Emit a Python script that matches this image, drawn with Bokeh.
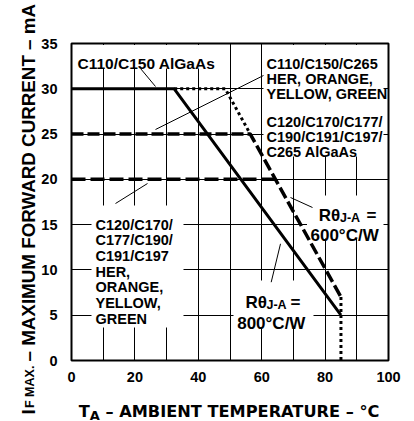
import math
from bokeh.plotting import figure
from bokeh.models import ColumnDataSource, Label, BoxAnnotation, Range1d
from bokeh.embed import file_html
from bokeh.resources import INLINE
from bokeh.core.properties import value

# ---------------- data ----------------
x_ticks = [0, 20, 40, 60, 80, 100]
y_ticks = [0, 5, 10, 15, 20, 25, 30, 35]
x_grid = [10, 20, 30, 40, 50, 60, 70, 80, 90]
y_grid = [5, 10, 15, 20, 25, 30]

# C110/C150 AlGaAs, 30 mA, R = 800 C/W (solid)
algaas30_t = [0, 32.4, 85]
algaas30_i = [30, 30, 5]
# C110/C150/C265 HER/ORANGE/YELLOW/GREEN, 30 mA, R = 600 C/W (dotted)
her30_t = [32.4, 48.5, 56.4]
her30_i = [30, 30, 25]
# C120/.../C265 AlGaAs, 25 mA (dashed)
algaas25_t = [0, 56.4, 85]
algaas25_i = [25, 25, 7]
# C120/.../C197 HER/ORANGE/YELLOW/GREEN, 20 mA (dashed)
her20_t = [0, 64.4]
her20_i = [20, 20]
# maximum ambient temperature (dotted)
tmax_t = [85, 85]
tmax_i = [7, 0]

label_1 = ["C110/C150 AlGaAs"]
label_2 = ["C110/C150/C265", "HER, ORANGE,", "YELLOW, GREEN"]
label_3 = ["C120/C170/C177/", "C190/C191/C197/", "C265 AlGaAs"]
label_4 = ["C120/C170/", "C177/C190/", "C191/C197", "HER,", "ORANGE,", "YELLOW,", "GREEN"]
r_600 = ["R\u03b8", "J-A", "=", "600\u00b0C/W"]
r_800 = ["R\u03b8", "J-A", "=", "800\u00b0C/W"]
x_title = ["T", "A", "\u2013 AMBIENT TEMPERATURE \u2013 \u00b0C"]
y_title = ["I", "F MAX.", "\u2013 MAXIMUM FORWARD CURRENT \u2013 mA"]

FONT = "Liberation Sans"
XFONT = "DejaVu Sans"

# ---------------- layout helpers (page px -> data) ----------------
FL, FT, FW, FH = 71, 43, 317, 317
def px(x):
    return (x - FL) / FW * 100.0
def py(y):
    return (FT + FH - y) / FH * 35.0

p = figure(frame_width=FW, frame_height=FH,
           x_range=Range1d(0, 100), y_range=Range1d(0, 35),
           output_backend="svg", toolbar_location=None, title_location=None,
           min_border_left=FL, min_border_right=414 - FL - FW,
           min_border_top=FT, min_border_bottom=421 - FT - FH)
p.background_fill_color = "white"
p.border_fill_color = "white"
p.outline_line_color = "black"
p.outline_line_width = 2

for ax in (p.xaxis[0], p.yaxis[0]):
    ax.axis_line_color = None
    ax.major_tick_line_color = None
    ax.minor_tick_line_color = None
    ax.major_label_text_font = FONT
    ax.major_label_text_font_style = "bold"
    ax.major_label_text_font_size = "14.5px"
    ax.major_label_text_color = "black"
p.xaxis.ticker = x_ticks
p.yaxis.ticker = y_ticks
p.xaxis.major_label_standoff = 5
p.yaxis.major_label_standoff = 8

p.xgrid.ticker = x_grid
p.ygrid.ticker = y_grid
for g in (p.xgrid[0], p.ygrid[0]):
    g.grid_line_color = "black"
    g.grid_line_width = 1

# white masks behind the label blocks (hide grid lines)
masks = [(73, 225, 44.5, 68), (263, 383, 44.5, 156), (91, 183, 205, 327),
         (306.5, 383, 195, 238), (233, 313, 280, 327)]
for l, r, t, b in masks:
    p.add_layout(BoxAnnotation(left=px(l), right=px(r), top=py(t), bottom=py(b),
                               fill_color="white", fill_alpha=1.0, line_color=None,
                               level="underlay"))

# curves
p.line(her30_t, her30_i, line_color="black", line_width=3, line_dash="3 3")
p.line(algaas25_t, algaas25_i, line_color="black", line_width=3.5, line_dash="12 4")
p.line(her20_t, her20_i, line_color="black", line_width=3.5, line_dash="14 5")
p.line(tmax_t, tmax_i, line_color="black", line_width=3, line_dash="3 3")
p.line(algaas30_t, algaas30_i, line_color="black", line_width=3)

# leader lines
leaders = [((140, 68), (155, 86)), ((155, 129), (263, 75)), ((115, 203), (147, 183)),
           ((290, 197), (312, 207)), ((270.7, 281.7), (280, 243.3))]
p.segment(x0=[px(a[0]) for a, b in leaders], y0=[py(a[1]) for a, b in leaders],
          x1=[px(b[0]) for a, b in leaders], y1=[py(b[1]) for a, b in leaders],
          line_color="black", line_width=1)

# annotation text
txt, tx, ty, ts = [], [], [], []
def add(lines, x0, y0, dy, size):
    for i, s in enumerate(lines):
        txt.append(s); tx.append(px(x0)); ty.append(py(y0 + i * dy)); ts.append(size)

add(label_1, 77, 63.3, 15, "15.5px")
add(label_2, 266, 63.3, 15, "14.5px")
add(label_3, 266, 121.7, 15, "14.5px")
add(label_4, 95, 224, 15.7, "14.5px")
for lines, (x0, y0), (x1, y1), (x2, y2), (x3, y3) in [
        (r_600, (318.3, 215), (339.5, 217.3), (366, 215), (310, 235)),
        (r_800, (245, 301.7), (266, 304), (290, 301.7), (236.7, 323.3))]:
    for s, (xx, yy), sz in zip(lines, [(x0, y0), (x1, y1), (x2, y2), (x3, y3)],
                               ["17px", "12.5px", "17px", "17px"]):
        txt.append(s); tx.append(px(xx)); ty.append(py(yy)); ts.append(sz)

src = ColumnDataSource(dict(x=tx, y=ty, text=txt, size=ts))
p.text(x="x", y="y", text="text", source=src, text_font=value(FONT),
       text_font_style="bold", text_font_size="size", text_color="black",
       text_align="left", text_baseline="alphabetic")

# axis titles: labels placed in the side panels (not clipped), data units
def lab(text, x, y, size, side, font, angle=0.0):
    p.add_layout(Label(x=px(x), y=py(y), text=text,
                       text_font=font, text_font_style="bold", text_font_size=size,
                       text_color="black", text_align="left",
                       text_baseline="alphabetic", angle=angle), side)

lab(x_title[0], 78.3, 410.7, "16.2px", "above", XFONT)
lab(x_title[1], 89.3, 414.5, "13px", "above", XFONT)
lab(x_title[2], 105, 410.7, "16.2px", "below", XFONT)

lab(y_title[0], 28.3, 414, "19px", "right", FONT, math.pi / 2)
lab(y_title[1], 29.0, 407.5, "12.5px", "left", FONT, math.pi / 2)
lab(y_title[2], 28.3, 361, "18.8px", "left", FONT, math.pi / 2)

open("out.html", "w").write(file_html(p, INLINE))
